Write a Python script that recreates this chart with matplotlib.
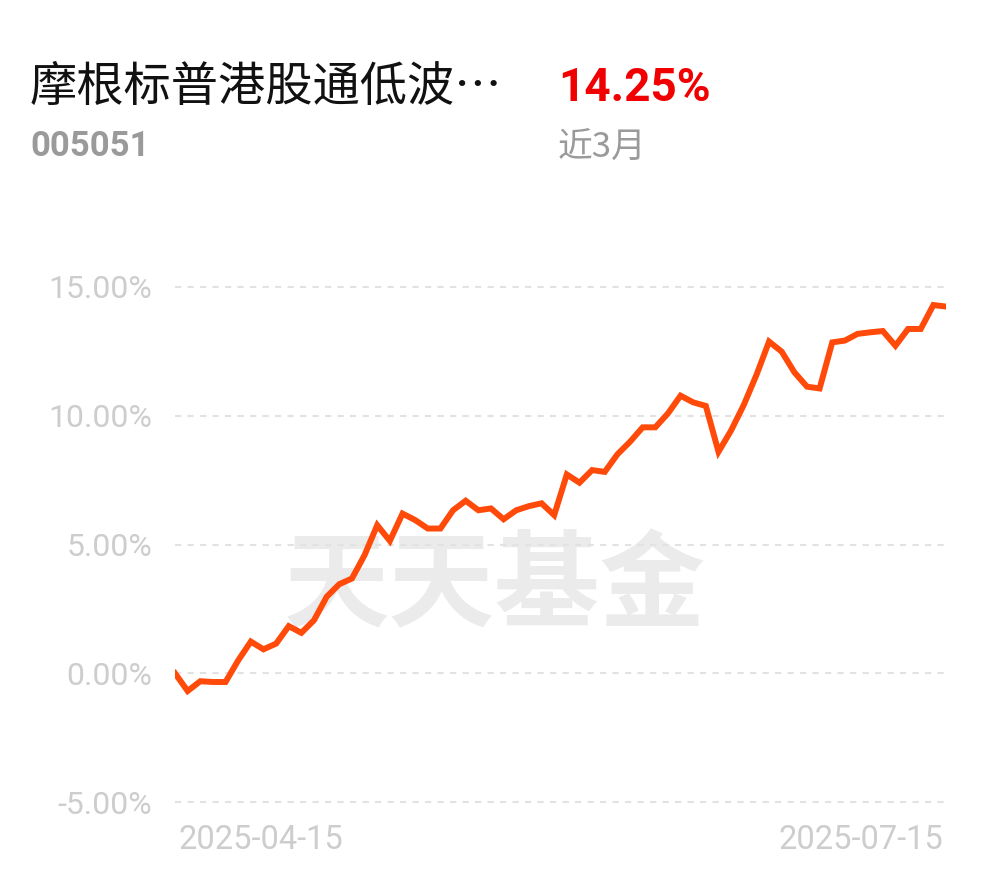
import matplotlib
matplotlib.use('Agg')
import matplotlib.pyplot as plt
from matplotlib import rcParams

rcParams['font.family'] = ['Roboto', 'Noto Sans CJK SC', 'DejaVu Sans']
rcParams['axes.unicode_minus'] = False

# 基金信息
fund_name = "摩根标普港股通低波…"
fund_code = "005051"
period_return = "14.25%"
period_label = "近3月"
date_labels = ["2025-04-15", "2025-07-15"]

# 近3月累计收益率(%), 共62个交易日
returns = [0.00, -0.69, -0.31, -0.34, -0.34, 0.50, 1.23, 0.93, 1.15, 1.83,
           1.57, 2.06, 2.97, 3.46, 3.68, 4.59, 5.75, 5.14, 6.20, 5.95,
           5.62, 5.62, 6.33, 6.70, 6.33, 6.40, 5.98, 6.33, 6.49, 6.60,
           6.14, 7.72, 7.40, 7.89, 7.82, 8.50, 8.99, 9.55, 9.55, 10.09,
           10.78, 10.52, 10.38, 8.60, 9.43, 10.42, 11.58, 12.88, 12.49, 11.69,
           11.13, 11.06, 12.85, 12.92, 13.18, 13.24, 13.29, 12.72, 13.37, 13.37,
           14.30, 14.24]
y_ticks = [-5, 0, 5, 10, 15]

fig = plt.figure(figsize=(9.9, 8.77), dpi=100)
ax = fig.add_axes([175 / 990, 1 - 802 / 877, 771 / 990, 515 / 877])
ax.patch.set_alpha(0)

x = list(range(len(returns)))
ax.plot(x, returns, color='#ff4a0a', linewidth=4.3, solid_joinstyle='miter', zorder=3)

ax.set_xlim(0, len(returns) - 1)
ax.set_ylim(-5, 15)
ax.set_yticks(y_ticks)
ax.set_yticklabels(["%.2f%%" % v for v in y_ticks], color='#cdcdcd', fontsize=23)
for v in y_ticks:
    ax.axhline(v, color='#e2e2e2', linewidth=1.5, linestyle=(0, (3, 3)), zorder=1, clip_on=False)
ax.tick_params(axis='y', length=0, pad=16.5)
ax.set_xticks([])
for s in ax.spines.values():
    s.set_visible(False)

# x轴两端日期
ax.text(0.004, -0.043, date_labels[0], transform=ax.transAxes, ha='left', va='top',
        color='#cdcdcd', fontsize=23.5)
ax.text(0.996, -0.043, date_labels[1], transform=ax.transAxes, ha='right', va='top',
        color='#cdcdcd', fontsize=23.5)

# 水印
ax.text(495 / 990, 1 - 588 / 877, "天天基金", transform=fig.transFigure, ha='center',
        va='center', color='#ebebeb', fontsize=76, fontweight='bold',
        family=['Noto Sans CJK SC'], zorder=0, clip_on=False)

# 标题区
fig.text(30 / 990, 1 - 88 / 877, fund_name, ha='left', va='center', color='#111111',
         fontsize=34, family=['Noto Sans CJK SC', 'DejaVu Sans'])
fig.text(558 / 990, 1 - 88 / 877, period_return, ha='left', va='center', color='#f00000',
         fontsize=33, fontweight='bold', family=['Roboto'])
fig.text(30 / 990, 1 - 147 / 877, fund_code, ha='left', va='center', color='#9a9a9a',
         fontsize=25, fontweight='bold', family=['Roboto'])
fig.text(558 / 990, 1 - 148 / 877, period_label, ha='left', va='center', color='#9a9a9a',
         fontsize=25, family=['Noto Sans CJK SC', 'DejaVu Sans'])

fig.savefig('out.png', dpi=100)
